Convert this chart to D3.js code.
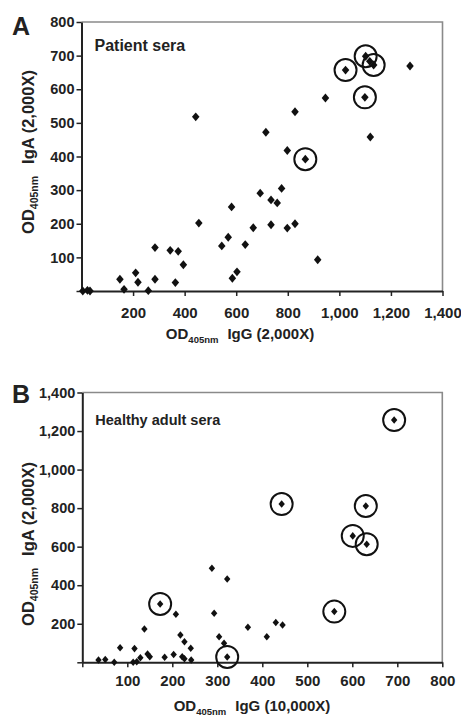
<!DOCTYPE html>
<html lang="en">

<head>
  <meta charset="UTF-8">
  <title>IgG vs IgA scatter</title>
  <script src="https://d3js.org/d3.v7.min.js"></script>
  <style>
    body { margin: 0; background: #fff; }
    text { font-family: "Liberation Sans", Arial, sans-serif; font-weight: bold; fill: #222; }
  </style>
</head>

<body>
  <div class="canvas"></div>
  <script>
    // panel A - patient sera
    const patientIgG = [5, 23, 33, 149, 165, 210, 219, 259, 285, 285, 344, 364, 375, 395, 443, 455,
      544, 569, 582, 585, 603, 635, 666, 693, 715, 735, 735, 759, 776, 798, 798, 828, 828, 868, 916, 946,
      1024, 1099, 1102, 1118, 1133, 1120, 1274];
    const patientIgA = [0, 2, 0, 35, 5, 54, 26, 1, 129, 35, 121, 25, 118, 78, 518, 202,
      134, 160, 250, 38, 57, 138, 188, 291, 472, 271, 197, 262, 305, 418, 187, 533, 200, 392, 93, 574,
      657, 576, 698, 683, 672, 458, 669];
    const patientCircled = [0, 0, 0, 0, 0, 0, 0, 0, 0, 0, 0, 0, 0, 0, 0, 0,
      0, 0, 0, 0, 0, 0, 0, 0, 0, 0, 0, 0, 0, 0, 0, 0, 0, 1, 0, 0,
      1, 1, 1, 0, 1, 0, 0];
    const patientXTicks = [200, 400, 600, 800, 1000, 1200, 1400];
    const patientYTicks = [0, 100, 200, 300, 400, 500, 600, 700, 800];

    // panel B - healthy adult sera
    const healthyIgG = [36, 51, 71, 84, 113, 116, 121, 129, 138, 145, 150, 173, 183, 203, 208, 218, 222,
      227, 227, 241, 242, 288, 293, 304, 315, 322, 322, 368, 410, 430, 445, 443, 560, 601, 630, 632, 693];
    const healthyIgA = [12, 15, 0, 76, 0, 71, 3, 24, 173, 43, 29, 303, 26, 41, 249, 142, 29,
      107, 19, 73, 12, 488, 254, 133, 99, 432, 28, 182, 133, 206, 194, 821, 263, 656, 811, 613, 1257];
    const healthyCircled = [0, 0, 0, 0, 0, 0, 0, 0, 0, 0, 0, 1, 0, 0, 0, 0, 0,
      0, 0, 0, 0, 0, 0, 0, 0, 0, 1, 0, 0, 0, 0, 1, 1, 1, 1, 1, 1];
    const healthyXTicks = [0, 100, 200, 300, 400, 500, 600, 700, 800];
    const healthyYTicks = [0, 200, 400, 600, 800, 1000, 1200, 1400];

    const width = 461;
    const height = 721;

    const svg = d3.select('.canvas')
      .append('svg')
      .attr('width', width)
      .attr('height', height)

    const fmt = d => d === 0 ? '' : d3.format(',')(d);

    function drawPanel(opt) {
      const x = d3.scaleLinear().domain(opt.xDomain).range([opt.left, opt.right]);
      const y = d3.scaleLinear().domain(opt.yDomain).range([opt.bottom, opt.top]);
      const g = svg.append('g');

      // grey frame top/right
      g.append('path')
        .attr('d', `M${opt.left},${opt.top}H${opt.right}V${opt.bottom}`)
        .attr('fill', 'none')
        .attr('stroke', '#8a8a8a')
        .attr('stroke-width', 1.6);

      const yAxis = g.append('g')
        .attr('transform', `translate(${opt.left},0)`)
        .call(d3.axisLeft(y).tickValues(opt.yTicks).tickSize(5).tickSizeOuter(0).tickFormat(fmt));
      const xAxis = g.append('g')
        .attr('transform', `translate(0,${opt.bottom})`)
        .call(d3.axisBottom(x).tickValues(opt.xTicks).tickSize(5).tickSizeOuter(0).tickFormat(fmt));

      [xAxis, yAxis].forEach(a => {
        a.select('.domain').attr('stroke', '#222').attr('stroke-width', 2);
        a.selectAll('.tick line').attr('stroke', '#222').attr('stroke-width', 1.5);
        a.selectAll('text').attr('fill', '#222')
          .style('font-family', '"Liberation Sans", Arial, sans-serif').style('font-weight', 'bold');
      });
      yAxis.selectAll('text').attr('x', -7).attr('font-size', 14.5);
      xAxis.selectAll('text').attr('y', opt.xLabelOffset).attr('font-size', 15);

      const pts = opt.xs.map((v, i) => ({ x: v, y: opt.ys[i], c: opt.circled[i] }));
      const diamond = d3.symbol().type(d3.symbolDiamond2).size(opt.size);

      g.selectAll('path.pt').data(pts).enter()
        .append('path')
        .attr('class', 'pt')
        .attr('d', diamond)
        .attr('transform', d => `translate(${x(d.x)},${y(d.y)}) scale(0.85,1)`)
        .attr('fill', '#111');

      g.selectAll('circle.ring').data(pts.filter(d => d.c)).enter()
        .append('circle')
        .attr('class', 'ring')
        .attr('cx', d => x(d.x))
        .attr('cy', d => y(d.y))
        .attr('r', 11)
        .attr('fill', 'none')
        .attr('stroke', '#111')
        .attr('stroke-width', 2);

      // panel letter and title
      g.append('text').attr('x', 12).attr('y', opt.letterY).attr('font-size', 25).text(opt.letter);
      g.append('text').attr('x', opt.left + 13).attr('y', opt.titleY)
        .attr('font-size', opt.titleSize).text(opt.title);

      // axis titles with subscript
      const yt = g.append('text')
        .attr('transform', `translate(34,${opt.yTitleY}) rotate(-90)`)
        .attr('text-anchor', 'middle')
        .attr('font-size', 16.5);
      yt.append('tspan').text('OD');
      yt.append('tspan').attr('font-size', 10.5).attr('dy', 4).text('405nm');
      yt.append('tspan').attr('dy', -4).attr('dx', 12).text(opt.yTitle);

      const xt = g.append('text')
        .attr('x', opt.xTitleX)
        .attr('y', opt.xTitleY)
        .attr('text-anchor', 'middle')
        .attr('font-size', 15);
      xt.append('tspan').text('OD');
      xt.append('tspan').attr('font-size', 9.5).attr('dy', 4).text('405nm');
      xt.append('tspan').attr('dy', -4).attr('dx', 9).text(opt.xTitle);
    }

    drawPanel({
      letter: 'A', letterY: 35, title: 'Patient sera', titleSize: 16, titleY: 51,
      xs: patientIgG, ys: patientIgA, circled: patientCircled,
      xDomain: [0, 1400], yDomain: [0, 800],
      xTicks: patientXTicks, yTicks: patientYTicks,
      left: 81.5, right: 442.5, top: 22, bottom: 291,
      size: 50, xLabelOffset: 16,
      yTitle: 'IgA (2,000X)', yTitleY: 152,
      xTitle: 'IgG (2,000X)', xTitleX: 240, xTitleY: 339
    });

    drawPanel({
      letter: 'B', letterY: 403, title: 'Healthy adult sera', titleSize: 14.5, titleY: 425,
      xs: healthyIgG, ys: healthyIgA, circled: healthyCircled,
      xDomain: [0, 800], yDomain: [0, 1400],
      xTicks: healthyXTicks, yTicks: healthyYTicks,
      left: 82.3, right: 442.3, top: 392.5, bottom: 662.3,
      size: 36, xLabelOffset: 13,
      yTitle: 'IgA (2,000X)', yTitleY: 544,
      xTitle: 'IgG (10,000X)', xTitleX: 252, xTitleY: 711
    });
  </script>

</body>
</html>
